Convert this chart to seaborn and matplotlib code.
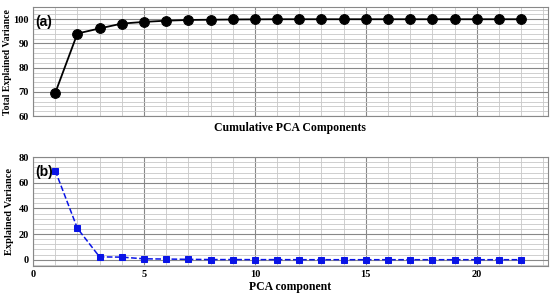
import numpy as np
import pandas as pd
import seaborn as sns
import matplotlib.pyplot as plt
from matplotlib.ticker import MultipleLocator

components = list(range(1, 23))
cumulative_var = [69.5, 94.1, 96.2, 98.2, 98.9, 99.4, 99.7, 99.8, 99.9, 99.95, 100.0,
                  100.0, 100.0, 100.0, 100.0, 100.0, 100.0, 100.0, 100.0, 100.0, 100.0, 100.0]
explained_var = [69.5, 24.5, 2.2, 2.0, 0.7, 0.5, 0.3, 0.1, 0.1, 0.05, 0.05,
                 0.0, 0.0, 0.0, 0.0, 0.0, 0.0, 0.0, 0.0, 0.0, 0.0, 0.0]

df = pd.DataFrame({'comp': components, 'cum': cumulative_var, 'exp': explained_var})

sns.set_style('white')
plt.rcParams['font.family'] = ['Liberation Serif', 'DejaVu Serif']
plt.rcParams['text.color'] = 'black'
plt.rcParams['axes.labelcolor'] = 'black'
plt.rcParams['xtick.color'] = 'black'
plt.rcParams['ytick.color'] = 'black'

fig = plt.figure(figsize=(5.5, 2.97), dpi=100)
ax1 = fig.add_axes([0.06, 0.609, 0.936, 0.367])
ax2 = fig.add_axes([0.06, 0.104, 0.936, 0.367])

# top panel: cumulative
sns.lineplot(data=df, x='comp', y='cum', ax=ax1, color='black', marker='o',
             markersize=7, markeredgecolor='black', linewidth=1.3)
ax1.set_ylim(60, 105)
ax1.set_xlim(0, 23.2)
ax1.yaxis.set_major_locator(MultipleLocator(10))
ax1.yaxis.set_minor_locator(MultipleLocator(2))
ax1.xaxis.set_major_locator(MultipleLocator(5))
ax1.xaxis.set_minor_locator(MultipleLocator(1))
ax1.tick_params(axis='x', which='both', labelbottom=False, length=0)
ax1.set_ylabel('Total Explained Variance', fontsize=7, fontweight='bold', labelpad=1)
ax1.set_xlabel('Cumulative PCA Components', fontsize=8.5, fontweight='bold')
ax1.text(0.004, 0.93, '(a)', transform=ax1.transAxes, fontsize=10, fontweight='bold',
         family='Liberation Sans', va='top', color='black')

# bottom panel: individual
sns.lineplot(data=df, x='comp', y='exp', ax=ax2, color='#0a14e6', marker='s',
             markersize=5, markeredgecolor='#0a14e6', linewidth=1.1, linestyle='--')
ax2.set_ylim(-5, 80)
ax2.set_xlim(0, 23.2)
ax2.yaxis.set_major_locator(MultipleLocator(20))
ax2.yaxis.set_minor_locator(MultipleLocator(4))
ax2.xaxis.set_major_locator(MultipleLocator(5))
ax2.xaxis.set_minor_locator(MultipleLocator(1))
ax2.set_ylabel('Explained Variance', fontsize=7.5, fontweight='bold', labelpad=3)
ax2.set_xlabel('PCA component', fontsize=8.5, fontweight='bold', labelpad=1)
ax2.text(0.004, 0.93, '(b)', transform=ax2.transAxes, fontsize=10, fontweight='bold',
         family='Liberation Sans', va='top', color='black')

for ax in (ax1, ax2):
    ax.grid(which='major', color='#888888', linewidth=0.8)
    ax.grid(which='minor', color='#c8c8c8', linewidth=0.6)
    ax.set_axisbelow(True)
    ax.tick_params(axis='both', which='major', labelsize=7.5, length=0, pad=3)
    ax.tick_params(axis='both', which='minor', length=0)
    for lab in ax.get_xticklabels() + ax.get_yticklabels():
        lab.set_fontweight('bold')
    for s in ax.spines.values():
        s.set_color('#888888')
        s.set_linewidth(0.8)

fig.savefig('out.png', dpi=100)
